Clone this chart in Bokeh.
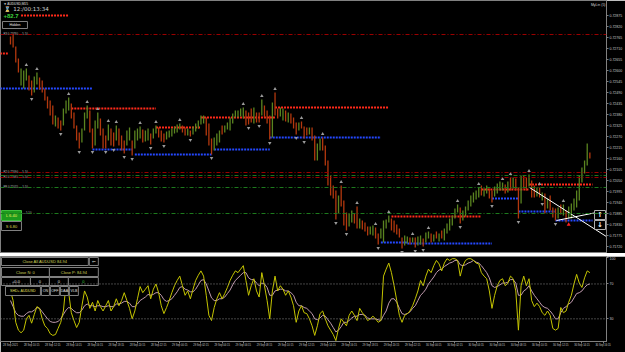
from bokeh.plotting import figure
from bokeh.models import Range1d, FixedTicker, PrintfTickFormatter, Span, Label
from bokeh.layouts import column
from bokeh.embed import file_html
from bokeh.resources import INLINE
from bokeh.core.properties import value

# ---------------- data (prices in points, 0.00001) ----------------
open_pts = [
    72770, 72785, 72720, 72660, 72525, 72510, 72550, 72575, 72550, 72490,
    72530, 72565, 72550, 72510, 72470, 72450, 72425, 72320, 72365, 72350,
    72325, 72385, 72400, 72435, 72390, 72325, 72290, 72240, 72300, 72360,
    72400, 72310, 72225, 72310, 72360, 72310, 72275, 72250, 72310, 72290,
    72250, 72310, 72275, 72250, 72225, 72250, 72250, 72210, 72250, 72260,
    72305, 72245, 72250, 72285, 72260, 72285, 72315, 72300, 72285, 72255,
    72265, 72270, 72285, 72290, 72305, 72325, 72315, 72275, 72300, 72280,
    72295, 72310, 72330, 72335, 72365, 72335, 72260, 72200, 72225, 72240,
    72325, 72290, 72305, 72300, 72335, 72365, 72365, 72370, 72360, 72400,
    72390, 72410, 72335, 72390, 72390, 72375, 72425, 72400, 72375, 72265,
    72490, 72410, 72370, 72350, 72400, 72340, 72385, 72365, 72340, 72300,
    72345, 72320, 72315, 72280, 72315, 72275, 72150, 72200, 72265, 72225,
    72150, 72075, 72025, 72000, 71885, 72025, 71950, 71890, 71820, 71840,
    71885, 71920, 71810, 71850, 71840, 71820, 71780, 71775, 71815, 71785,
    71760, 71740, 71810, 71840, 71860, 71850, 71830, 71810, 71765, 71725,
    71735, 71765, 71740, 71765, 71725, 71730, 71760, 71740, 71760, 71785,
    71745, 71795, 71745, 71800, 71750, 71785, 71800, 71825, 71860, 71890,
    71915, 71850, 71870, 71900, 71920, 71940, 71955, 71965, 72025, 71970,
    71985, 72010, 72000, 71970, 71985, 72000, 72000, 72030, 71990, 72065,
    72010, 72060, 72015, 71935, 72075, 72065, 72020, 72050, 72025, 71970,
    72015, 71950, 71985, 71910, 71975, 71915, 71910, 71860, 71930, 71875,
    71900, 71860, 71860, 71900, 71915, 71950, 72040, 72085, 72125, 72190,
]
close_pts = [
    72730, 72715, 72640, 72590, 72610, 72600, 72610, 72500, 72475, 72570,
    72590, 72505, 72490, 72450, 72410, 72375, 72330, 72375, 72310, 72300,
    72410, 72450, 72465, 72360, 72310, 72250, 72210, 72310, 72390, 72425,
    72290, 72210, 72350, 72390, 72275, 72210, 72210, 72330, 72225, 72220,
    72325, 72225, 72200, 72185, 72300, 72315, 72175, 72300, 72310, 72320,
    72240, 72300, 72310, 72230, 72310, 72325, 72265, 72245, 72240, 72295,
    72300, 72310, 72320, 72330, 72335, 72290, 72275, 72310, 72270, 72320,
    72335, 72350, 72375, 72375, 72275, 72225, 72180, 72265, 72285, 72300,
    72280, 72325, 72340, 72365, 72385, 72400, 72400, 72410, 72415, 72325,
    72330, 72340, 72415, 72340, 72340, 72455, 72365, 72335, 72255, 72440,
    72375, 72360, 72415, 72410, 72345, 72390, 72335, 72310, 72280, 72340,
    72310, 72260, 72275, 72315, 72250, 72150, 72235, 72260, 72200, 72125,
    72025, 71975, 71960, 71855, 71975, 71920, 71825, 71800, 71885, 71900,
    71835, 71810, 71860, 71805, 71795, 71775, 71820, 71825, 71760, 71730,
    71810, 71850, 71855, 71875, 71800, 71790, 71780, 71765, 71710, 71775,
    71770, 71730, 71765, 71715, 71770, 71775, 71720, 71790, 71795, 71740,
    71780, 71760, 71785, 71760, 71810, 71835, 71860, 71875, 71910, 71930,
    71835, 71900, 71920, 71950, 71975, 71990, 72000, 72015, 71975, 72010,
    72025, 71960, 71940, 72020, 72035, 72045, 72040, 71985, 72045, 72000,
    72065, 72000, 71860, 72075, 72010, 72000, 72080, 71965, 71965, 72015,
    71965, 71990, 71885, 71960, 71900, 71865, 71850, 71915, 71880, 71930,
    71840, 71920, 71935, 71960, 72000, 72075, 72115, 72150, 72235, 72160,
]

fractal_up = [6, 10, 22, 29, 33, 37, 40, 49, 55, 64, 88, 95, 100, 110, 118, 125, 131,
              138, 143, 152, 158, 169, 177, 186, 189, 196, 200, 209]
fractal_dn = [8, 19, 26, 31, 36, 39, 43, 46, 53, 58, 68, 76, 90, 94, 98, 108, 111,
              123, 127, 139, 148, 153, 156, 170, 182, 192, 201, 206]

res_start = [-4, 4, 23, 55, 72, 100, 144, 178, 196]
res_end = [-1, 22, 55, 72, 100, 143, 178, 196, 220]
res_price = [72685, 72875, 72410, 72315, 72365, 72415, 71870, 72005, 72030]

sup_start = [-4, 31, 47, 77, 98, 140, 150, 182, 192, 206]
sup_end = [31, 46, 76, 98, 140, 150, 182, 192, 206, 220]
sup_price = [72510, 72205, 72180, 72205, 72265, 71740, 71735, 71960, 71895, 71850]

pivot_price = [72780, 72090, 72075, 72065, 72015, 71885]
pivot_color = ["#9b0000", "#9b0000", "#1d7a1d", "#9b0000", "#1d7a1d", "#1d7a1d"]
pivot_label = ["R3 0.72780 \u2014 5.10", "R2 0.72090 \u2014 5.10", "", "R1 0.72065 \u2014 5.10",
               "PP 0.72015 \u2014 5.10", "\u2014 5.10"]

trend1_bar = [196.2, 226.4]
trend1_pts = [72015, 71760]
trend2_bar = [206.4, 221.5]
trend2_pts = [71850, 71890]

price_ticks = [0.72875, 0.72820, 0.72765, 0.72710, 0.72655, 0.72600, 0.72545, 0.72490,
               0.72435, 0.72380, 0.72325, 0.72270, 0.72215, 0.72160, 0.72105, 0.72050,
               0.71995, 0.71940, 0.71885, 0.71830, 0.71775, 0.71720]

time_labels = ["28 Sep 2021", "28 Sep 10:15", "28 Sep 12:15", "28 Sep 14:15", "28 Sep 16:15",
               "28 Sep 18:15", "28 Sep 20:15", "28 Sep 22:15", "29 Sep 00:15", "29 Sep 02:15",
               "29 Sep 04:15", "29 Sep 06:15", "29 Sep 08:15", "29 Sep 10:15", "29 Sep 12:15",
               "29 Sep 14:15", "29 Sep 16:15", "29 Sep 18:15", "29 Sep 20:15", "29 Sep 22:15",
               "30 Sep 00:15", "30 Sep 02:15", "30 Sep 04:15", "30 Sep 06:15", "30 Sep 08:15",
               "30 Sep 10:15", "30 Sep 12:15", "30 Sep 14:15", "30 Sep 16:15"]
time_ticks = [8 * k for k in range(len(time_labels))]

osc_main = [
    62, 51, 26, 17, 14, 17, 30, 34, 25, 35,
    44, 42, 30, 22, 19, 13, 11, 12, 19, 26,
    39, 70, 60, 37, 28, 20, 26, 45, 62, 55,
    42, 49, 39, 51, 44, 39, 45, 51, 39, 44,
    53, 45, 51, 60, 51, 42, 30, 39, 53, 67,
    60, 64, 68, 53, 64, 70, 60, 45, 36, 43,
    51, 60, 68, 74, 79, 68, 57, 62, 53, 64,
    74, 80, 85, 79, 57, 34, 28, 43, 53, 60,
    53, 59, 66, 74, 80, 85, 83, 87, 91, 74,
    57, 68, 76, 62, 55, 83, 68, 51, 30, 62,
    79, 62, 68, 64, 57, 62, 55, 45, 26, 39,
    45, 37, 36, 30, 22, 11, 22, 36, 39, 30,
    22, 17, 12, 5, 19, 30, 26, 22, 34, 39,
    34, 28, 42, 37, 33, 28, 30, 33, 30, 26,
    28, 79, 87, 94, 83, 68, 51, 34, 26, 34,
    36, 39, 45, 53, 62, 74, 68, 79, 87, 83,
    91, 97, 93, 85, 94, 99, 97, 99, 99, 97,
    79, 91, 97, 99, 99, 97, 94, 93, 83, 79,
    76, 62, 42, 57, 68, 74, 76, 68, 71, 79,
    76, 62, 17, 68, 79, 68, 76, 51, 44, 48,
    44, 37, 34, 39, 34, 19, 17, 19, 43, 37,
    39, 49, 57, 70, 81, 71, 66, 77, 85, 83,
]
osc_signal = [
    51, 44, 37, 34, 33, 33, 36, 38, 38, 40,
    43, 42, 38, 34, 30, 27, 26, 26, 27, 30,
    35, 40, 43, 42, 39, 37, 37, 40, 45, 47,
    45, 45, 44, 45, 45, 44, 44, 45, 44, 44,
    47, 47, 48, 50, 50, 48, 44, 44, 47, 51,
    53, 55, 58, 57, 58, 60, 60, 57, 52, 50,
    51, 53, 57, 61, 66, 67, 64, 63, 61, 61,
    64, 69, 74, 75, 70, 62, 54, 51, 51, 53,
    53, 55, 59, 63, 69, 74, 77, 80, 83, 83,
    77, 75, 75, 71, 68, 71, 70, 66, 57, 57,
    62, 63, 64, 64, 62, 62, 60, 57, 49, 45,
    45, 43, 42, 39, 36, 30, 29, 31, 34, 33,
    29, 25, 20, 15, 17, 21, 26, 26, 28, 31,
    33, 33, 35, 35, 34, 31, 30, 30, 30, 29,
    28, 34, 39, 48, 53, 53, 49, 42, 36, 35,
    36, 38, 42, 45, 51, 57, 60, 64, 70, 74,
    78, 83, 86, 87, 90, 92, 94, 95, 97, 97,
    92, 91, 92, 94, 95, 97, 95, 94, 91, 87,
    83, 77, 68, 66, 67, 69, 71, 71, 72, 75,
    75, 71, 57, 57, 62, 64, 68, 62, 57, 53,
    49, 45, 43, 42, 39, 35, 30, 30, 37, 42,
    44, 47, 49, 54, 59, 60, 62, 66, 69, 70,
]
osc_levels = [70, 30]
osc_ticks = [100, 70, 30]

# ---------------- styles ----------------
BG = "#000000"
GRAY = "#808080"
AXIS_TXT = "#c8c8c8"
BULL = "#5a8420"
BEAR = "#b3380e"
RES = "#ff2a1a"
SUP = "#2448ff"
FONT = "Liberation Sans"

PX_PER_BAR = 2.65
X0 = -3.77
FRAME_W = 607
xr = Range1d(X0, X0 + FRAME_W / PX_PER_BAR)


def X(px):
    return X0 + px / PX_PER_BAR


def Y1(py):
    return (72950 - 5 * py) / 1e5


def Y2(py):
    return 101.5 - (py - 256) * 97.5 / 85


P = lambda v: v / 1e5

N = len(open_pts)
bars = list(range(N))
opens = [P(v) for v in open_pts]
closes = [P(v) for v in close_pts]
colors = [BULL if c >= o else BEAR for o, c in zip(opens, closes)]

# ---------------- main price panel ----------------
p1 = figure(width=625, height=253, x_range=xr, y_range=Range1d(Y1(253), Y1(0)),
            output_backend="svg", toolbar_location=None, x_axis_location=None,
            y_axis_location="right", min_border_left=0, min_border_top=0,
            min_border_bottom=0, min_border_right=18,
            background_fill_color=BG, border_fill_color=BG)
p1.grid.visible = False
p1.outline_line_color = GRAY
ax = p1.yaxis[0]
ax.ticker = FixedTicker(ticks=price_ticks)
ax.formatter = PrintfTickFormatter(format="%.5f")
ax.major_label_text_font_size = "3.5px"
ax.major_label_text_font = FONT
ax.major_label_text_color = AXIS_TXT
ax.axis_line_color = GRAY
ax.major_tick_line_color = GRAY
ax.major_tick_out = 2
ax.major_tick_in = 0
ax.minor_tick_out = 0
ax.minor_tick_in = 0
ax.major_label_standoff = 1

# pivot dash-dot lines across the whole chart
for pr, col in zip(pivot_price, pivot_color):
    p1.add_layout(Span(location=P(pr), dimension="width", line_color=col,
                       line_width=1, line_dash="4 2 1 2"))

# support / resistance dotted segments
p1.segment(x0=res_start, x1=res_end, y0=[P(v) for v in res_price], y1=[P(v) for v in res_price],
           line_color=RES, line_width=2, line_dash="2 1")
p1.segment(x0=sup_start, x1=sup_end, y0=[P(v) for v in sup_price], y1=[P(v) for v in sup_price],
           line_color=SUP, line_width=2, line_dash="2 1")

# candles
p1.segment(x0=bars, x1=bars, y0=opens, y1=closes, line_color=colors, line_width=1.3)

# fractals
up_y = [max(opens[i], closes[i]) + 0.00018 for i in fractal_up]
dn_y = [min(opens[i], closes[i]) - 0.00018 for i in fractal_dn]
p1.scatter(fractal_up, up_y, marker="triangle", size=3.5, fill_color="#9a9a9a", line_color=None)
p1.scatter(fractal_dn, dn_y, marker="inverted_triangle", size=3.5, fill_color="#9a9a9a", line_color=None)

# trend lines
p1.line(trend1_bar, [P(v) for v in trend1_pts], line_color="#ffffff", line_width=1)
p1.line(trend2_bar, [P(v) for v in trend2_pts], line_color="#ffffff", line_width=1)
p1.scatter([211], [P(71830)], marker="triangle", size=4, fill_color="#ff2020", line_color=None)


def txt(fig, px, py, s, color, size, ymap, align="left", baseline="middle",
        font=FONT, style="normal"):
    fig.text(x=[X(px)], y=[ymap(py)], text=[s], text_color=color,
             text_font_size=value(size), text_align=align, text_baseline=baseline,
             text_font=value(font), text_font_style=style)


def box(fig, l, r, t, b, ymap, fill=BG, line=GRAY):
    fig.quad(left=[X(l)], right=[X(r)], top=[ymap(t)], bottom=[ymap(b)],
             fill_color=fill, line_color=line, line_width=1)


# pivot labels
label_py = [33, 171, None, 176, 186, 212]
for lab, py in zip(pivot_label, label_py):
    if lab and py is not None:
        txt(p1, 22 if lab.startswith("\u2014") else 3, py, lab, "#bdbdbd", "2.8px", Y1)

# top-left info
txt(p1, 3, 3, "\u25bc AUDUSD,M15", "#e0e0e0", "3.2px", Y1)
txt(p1, 4, 8, "\u231b 12:/00:13:34", "#d0d0d0", "5.5px", Y1, font="DejaVu Sans")
txt(p1, 3, 15.5, "+82.7", "#3cd23c", "6px", Y1, style="bold")
box(p1, 2, 27, 21, 28, Y1)
txt(p1, 14.5, 24.5, "Hidden", "#e0e0e0", "3.5px", Y1, align="center")
txt(p1, 606, 4, "MyLin (5)", "#d0d0d0", "3.5px", Y1, align="right")

# lot boxes
box(p1, 1, 21, 210, 220, Y1, fill="#1c9a1c", line="#40c040")
txt(p1, 11, 215, "L 6.40", "#f0f060", "4px", Y1, align="center")
box(p1, 1, 21, 221, 230, Y1, fill=BG, line=GRAY)
txt(p1, 11, 225.5, "S 6.80", "#d8d850", "4px", Y1, align="center")

# arrow buttons at right
box(p1, 595, 606, 210, 219, Y1, line="#b0b0b0")
txt(p1, 600.5, 214.5, "\u2191", "#ffffff", "7px", Y1, align="center", font="DejaVu Sans", style="bold")
box(p1, 595, 606, 220, 229, Y1, line="#b0b0b0")
txt(p1, 600.5, 224.5, "\u2193", "#ffffff", "7px", Y1, align="center", font="DejaVu Sans", style="bold")

# current price tag on the axis
p1.add_layout(Label(x=xr.end + 0.4, y=closes[-1], text="%.5f" % closes[-1],
                    text_font_size="3.5px", text_font=FONT, text_color="#000000",
                    background_fill_color="#ffffff", text_baseline="middle",
                    text_align="left"))

# ---------------- separator ----------------
sep = figure(width=625, height=3, output_backend="svg", toolbar_location=None,
             x_axis_location=None, y_axis_location=None, min_border=0,
             background_fill_color="#7c7c7c", border_fill_color="#7c7c7c",
             outline_line_color=None)
sep.grid.visible = False

# ---------------- oscillator panel ----------------
p2 = figure(width=625, height=96, x_range=xr, y_range=Range1d(4, 101.5),
            output_backend="svg", toolbar_location=None, y_axis_location="right",
            min_border_left=0, min_border_top=0, min_border_bottom=11, min_border_right=18,
            background_fill_color=BG, border_fill_color=BG)
p2.grid.visible = False
p2.outline_line_color = GRAY
for lv in osc_levels:
    p2.add_layout(Span(location=lv, dimension="width", line_color="#8a8a8a",
                       line_width=1, line_dash="1 2"))
p2.line(bars, osc_signal, line_color="#c09aae", line_width=1)
p2.line(bars, osc_main, line_color="#c4c400", line_width=1)

ay = p2.yaxis[0]
ay.ticker = FixedTicker(ticks=osc_ticks)
ay.major_label_text_font_size = "3.5px"
ay.major_label_text_font = FONT
ay.major_label_text_color = AXIS_TXT
ay.axis_line_color = GRAY
ay.major_tick_line_color = GRAY
ay.major_tick_out = 2
ay.major_tick_in = 0
ay.minor_tick_out = 0
ay.minor_tick_in = 0
ay.major_label_standoff = 1

axx = p2.xaxis[0]
axx.ticker = FixedTicker(ticks=time_ticks)
axx.major_label_overrides = {t: s for t, s in zip(time_ticks, time_labels)}
axx.major_label_text_font_size = "2.6px"
axx.major_label_text_font = FONT
axx.major_label_text_color = AXIS_TXT
axx.axis_line_color = GRAY
axx.major_tick_line_color = GRAY
axx.major_tick_out = 2
axx.major_tick_in = 0
axx.minor_tick_out = 0
axx.minor_tick_in = 0
axx.major_label_standoff = 1

# trade panel buttons
YEL = "#cfd35a"
box(p2, 1, 88, 257, 265, Y2)
txt(p2, 44.5, 261, "Close All AUDUSD 84.94", YEL, "4px", Y2, align="center")
box(p2, 89, 98, 257, 265, Y2)
txt(p2, 93.5, 261, "\u21d0", "#e0e0e0", "4.5px", Y2, align="center", font="DejaVu Sans")
box(p2, 1, 49, 267, 276, Y2)
txt(p2, 25, 271.5, "Close N: 0", YEL, "4px", Y2, align="center")
box(p2, 49, 98, 267, 276, Y2)
txt(p2, 73.5, 271.5, "Close P: 84.94", YEL, "4px", Y2, align="center")
for l, r, s, c in [(1, 30, "+0-0", "#e0e0e0"), (30, 49, "0", "#e0e0e0"),
                   (49, 68, "0", "#e0e0e0"), (68, 98, "0", "#3cd23c")]:
    box(p2, l, r, 277, 285, Y2)
    txt(p2, (l + r) / 2, 281, s, c, "4px", Y2, align="center")
for l, r, s, c in [(5, 40, "SHD+ AUDUSD", "#e0e060"), (41, 49, "ON", "#e0e0e0"),
                   (50, 59, "OFF", "#e0e0e0"), (60, 68, "DAA", "#e0e0e0"),
                   (69, 78, "VLB", "#e0e0e0")]:
    box(p2, l, r, 286, 295, Y2)
    txt(p2, (l + r) / 2, 290.5, s, c, "3.6px", Y2, align="center")

layout = column(p1, sep, p2)
open("out.html", "w").write(file_html(layout, INLINE))
